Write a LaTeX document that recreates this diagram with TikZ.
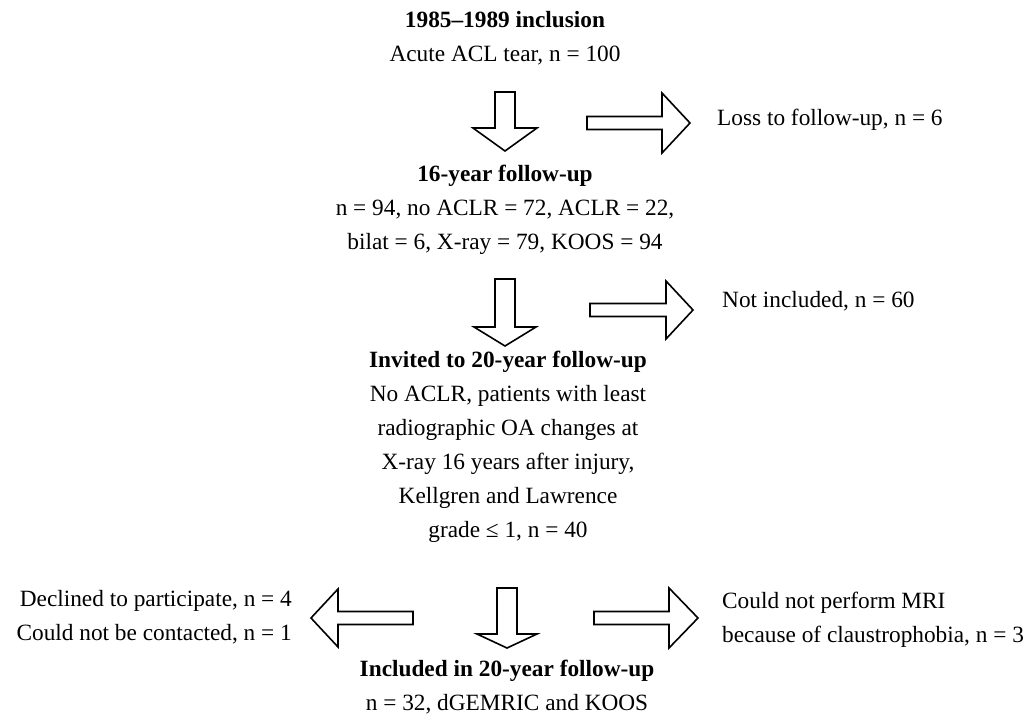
\documentclass[tikz,border=0pt]{standalone}
\usepackage{fontspec}
\setmainfont{Liberation Serif}
\newcommand\hArrow[6]{%
  \draw[blockarr] (#1,#3-#4) -- (#2-#6,#3-#4) -- (#2-#6,#3-#5) -- (#2,#3)
    -- (#2-#6,#3+#5) -- (#2-#6,#3+#4) -- (#1,#3+#4) -- cycle;}
\newcommand\vArrow[6]{%
  \draw[blockarr] (#1-#4,#2) -- (#1-#4,#3-#6) -- (#1-#5,#3-#6) -- (#1,#3)
    -- (#1+#5,#3-#6) -- (#1+#4,#3-#6) -- (#1+#4,#2) -- cycle;}
\begin{document}
\begin{tikzpicture}[x=1pt,y=-1pt,
  blockarr/.style={draw=black,fill=white,line width=1.6pt,line join=miter},
  txt/.style={font=\fontsize{23.3}{34}\selectfont,inner sep=0pt,align=center},
  side/.style={txt,align=left,anchor=west}]
\useasboundingbox (0,0) rectangle (1034,722);
% main blocks
\node[txt] (incl) at (505,38) {\textbf{1985–1989 inclusion}\\Acute ACL tear, n = 100};
\node[txt] (fu16) at (505,210) {\textbf{16-year follow-up}\\n = 94, no ACLR = 72, ACLR = 22,\\bilat = 6, X-ray = 79, KOOS = 94};
\node[txt] (inv) at (508,447) {\textbf{Invited to 20-year follow-up}\\No ACLR, patients with least\\radiographic OA changes at\\X-ray 16 years after injury,\\Kellgren and Lawrence\\grade ≤ 1, n = 40};
\node[txt] (inc20) at (507,687) {\textbf{Included in 20-year follow-up}\\n = 32, dGEMRIC and KOOS};
% side texts
\node[side] (loss) at (717,120) {Loss to follow-up, n = 6};
\node[side] (notinc) at (722,301) {Not included, n = 60};
\node[txt,align=right,anchor=east] (decl) at (292,617) {Declined to participate, n = 4\\Could not be contacted, n = 1};
\node[side] (mri) at (722,620) {Could not perform MRI\\because of claustrophobia, n = 3};
% down arrows
\vArrow{505}{92}{151}{10}{32}{23}
\vArrow{505}{279}{346}{10}{31}{19}
\vArrow{507}{588}{648}{10}{30}{14}
% side arrows
\hArrow{587}{690}{123}{6.5}{30}{28}
\hArrow{590}{693}{310}{6.5}{29}{27}
\hArrow{413}{311}{618}{6.5}{29}{-27}
\hArrow{594}{698}{618}{6.5}{30}{29}
\end{tikzpicture}
\end{document}
